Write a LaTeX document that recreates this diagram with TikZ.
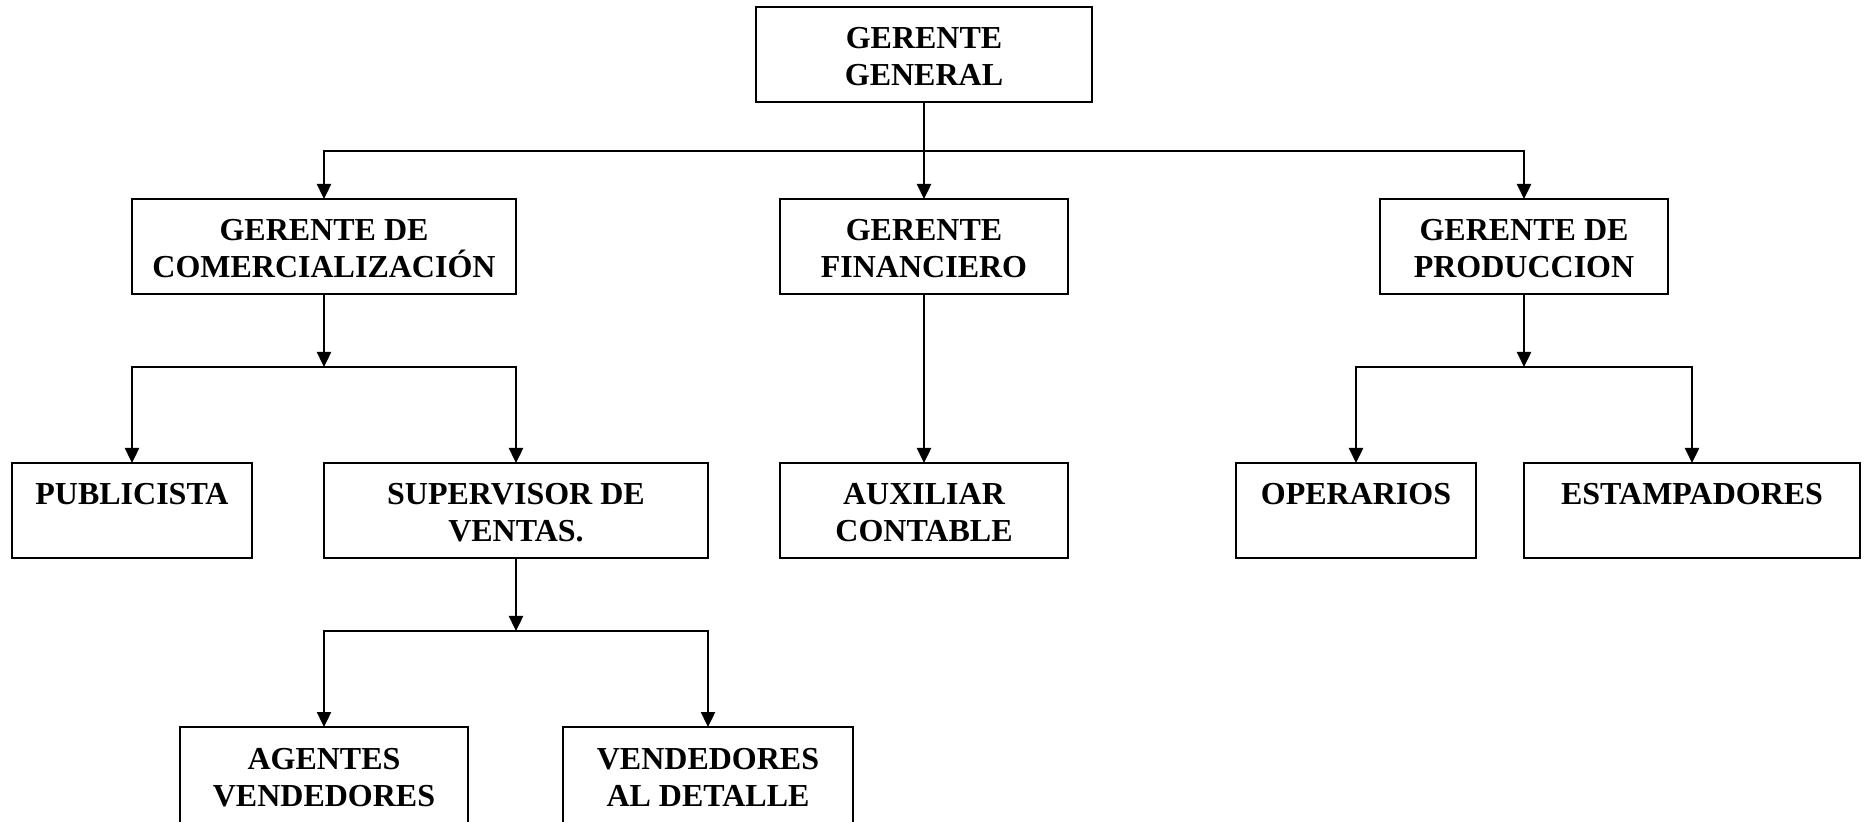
\documentclass[tikz,border=0pt]{standalone}
\usepackage{fontspec}
\setmainfont{Liberation Serif}
\usetikzlibrary{arrows.meta}
\newcommand{\bt}[3]{\parbox[t][#2][t]{#1}{\centering\bfseries\fontsize{16pt}{18.5pt}\selectfont\rule{0pt}{21pt}#3}}
\tikzset{
  box/.style={draw, line width=1pt, inner sep=0pt, outer sep=0pt, anchor=north},
  arr/.style={line width=1.2pt, -{Triangle[length=7.5pt,width=7pt]}},
}
\begin{document}
\begin{tikzpicture}[x=0.5pt,y=-0.5pt]
\useasboundingbox (0,0) rectangle (1867,822);
% level 1
\node[box] (gg) at (924,7) {\bt{168pt}{47.5pt}{GERENTE\\GENERAL}};
% level 2
\node[box] (gc) at (324,199) {\bt{192pt}{47.5pt}{GERENTE DE\\COMERCIALIZACIÓN}};
\node[box] (gf) at (924,199) {\bt{144pt}{47.5pt}{GERENTE\\FINANCIERO}};
\node[box] (gp) at (1524,199) {\bt{144pt}{47.5pt}{GERENTE DE\\PRODUCCION}};
% level 3
\node[box] (pub) at (132,463) {\bt{120pt}{47.5pt}{PUBLICISTA}};
\node[box] (sup) at (516,463) {\bt{192pt}{47.5pt}{SUPERVISOR DE\\VENTAS.}};
\node[box] (aux) at (924,463) {\bt{144pt}{47.5pt}{AUXILIAR\\CONTABLE}};
\node[box] (ope) at (1356,463) {\bt{120pt}{47.5pt}{OPERARIOS}};
\node[box] (est) at (1692,463) {\bt{168pt}{47.5pt}{ESTAMPADORES}};
% level 4
\node[box] (age) at (324,727) {\bt{144pt}{49pt}{AGENTES\\VENDEDORES}};
\node[box] (ven) at (708,727) {\bt{145pt}{49pt}{VENDEDORES\\AL DETALLE}};
% junctions
\coordinate (j1) at (924,151);
\coordinate (j2) at (324,367);
\coordinate (j3) at (1524,367);
\coordinate (j4) at (516,631);
% connectors
\draw[arr] (gg.south) -- (gf.north);
\draw[arr] (j1) -| (gc.north);
\draw[arr] (j1) -| (gp.north);
\draw[arr] (gc.south) -- (j2);
\draw[arr] (j2) -| (pub.north);
\draw[arr] (j2) -| (sup.north);
\draw[arr] (gf.south) -- (aux.north);
\draw[arr] (gp.south) -- (j3);
\draw[arr] (j3) -| (ope.north);
\draw[arr] (j3) -| (est.north);
\draw[arr] (sup.south) -- (j4);
\draw[arr] (j4) -| (age.north);
\draw[arr] (j4) -| (ven.north);
\end{tikzpicture}
\end{document}
